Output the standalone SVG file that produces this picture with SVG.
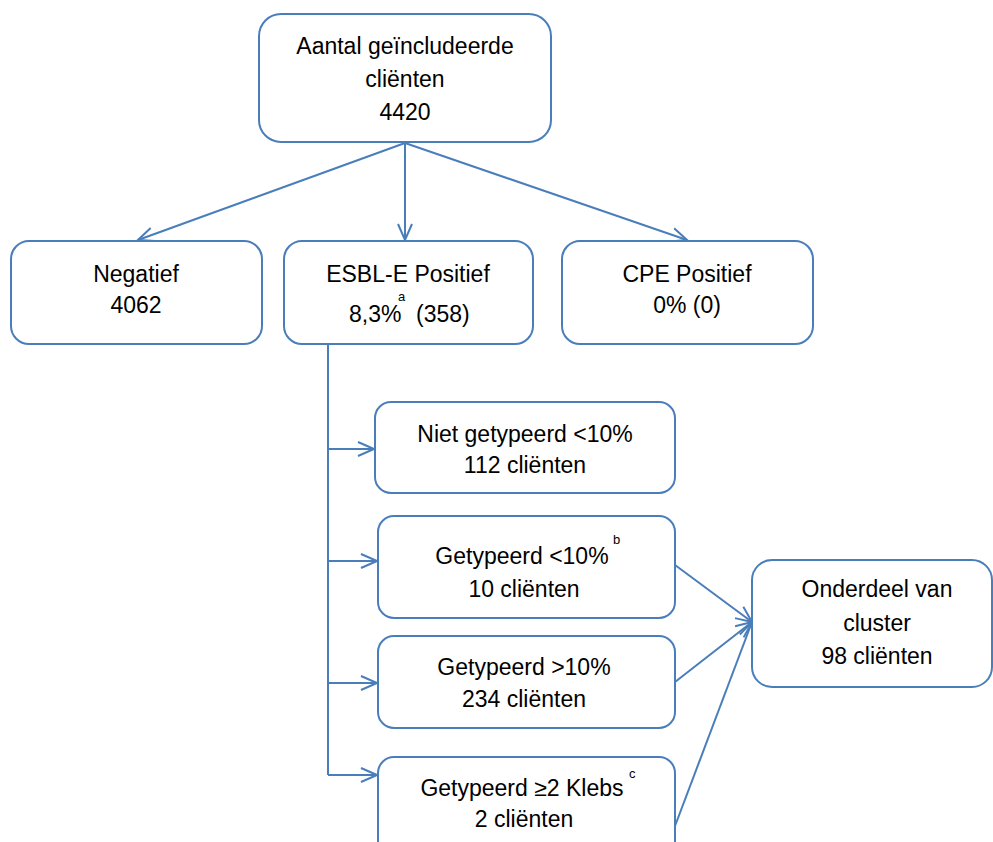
<svg xmlns="http://www.w3.org/2000/svg" width="993" height="842" viewBox="0 0 993 842">
<style>
.box{fill:#fff;stroke:#4a7ebb;stroke-width:2}
.ln{fill:none;stroke:#4a7ebb;stroke-width:2}
text{font-family:"Liberation Sans",Arial,sans-serif;font-size:23px;fill:#000}
.c{text-anchor:middle}
.sup{font-size:13px}
</style>
<defs>
<marker id="ah" viewBox="0 0 20 20" refX="18" refY="10" markerWidth="20" markerHeight="20" markerUnits="userSpaceOnUse" orient="auto">
<path d="M2,3 L18,10 L2,17" fill="none" stroke="#4a7ebb" stroke-width="2"/>
</marker>
</defs>
<g id="connectors">
<line class="ln" x1="405" y1="143" x2="138" y2="240" marker-end="url(#ah)"/>
<line class="ln" x1="405" y1="143" x2="405" y2="240" marker-end="url(#ah)"/>
<line class="ln" x1="405" y1="143" x2="687" y2="240" marker-end="url(#ah)"/>
<line class="ln" x1="328" y1="345" x2="328" y2="775"/>
<line class="ln" x1="328" y1="449" x2="374" y2="449" marker-end="url(#ah)"/>
<line class="ln" x1="328" y1="561" x2="377" y2="561" marker-end="url(#ah)"/>
<line class="ln" x1="328" y1="683" x2="377" y2="683" marker-end="url(#ah)"/>
<line class="ln" x1="328" y1="775" x2="377" y2="775" marker-end="url(#ah)"/>
<line class="ln" x1="675" y1="565" x2="752" y2="622" marker-end="url(#ah)"/>
<line class="ln" x1="675" y1="682" x2="752" y2="622" marker-end="url(#ah)"/>
<line class="ln" x1="675" y1="826" x2="752" y2="622" marker-end="url(#ah)"/>
</g>
<g id="top">
<rect class="box" x="259" y="14" width="292" height="128" rx="22"/>
<text class="c" x="405" y="54">Aantal geïncludeerde</text>
<text class="c" x="405" y="87">cliënten</text>
<text class="c" x="405" y="120">4420</text>
</g>
<g id="negatief">
<rect class="box" x="11" y="241" width="251" height="103" rx="18"/>
<text class="c" x="136" y="282">Negatief</text>
<text class="c" x="136" y="313">4062</text>
</g>
<g id="esbl">
<rect class="box" x="284" y="241" width="249" height="103" rx="18"/>
<text class="c" x="408" y="282">ESBL-E Positief</text>
<text x="349" y="322">8,3%</text>
<text class="sup" x="398" y="301">a</text>
<text x="416" y="322">(358)</text>
</g>
<g id="cpe">
<rect class="box" x="562" y="241" width="251" height="103" rx="18"/>
<text class="c" x="687" y="282">CPE Positief</text>
<text class="c" x="687" y="313">0% (0)</text>
</g>
<g id="niet">
<rect class="box" x="375" y="402" width="300" height="91" rx="16"/>
<text class="c" x="525" y="442">Niet getypeerd &lt;10%</text>
<text class="c" x="525" y="473">112 cliënten</text>
</g>
<g id="get1">
<rect class="box" x="378" y="516" width="297" height="102" rx="16"/>
<text class="c" x="522" y="564">Getypeerd &lt;10%</text>
<text class="sup" x="613" y="544">b</text>
<text class="c" x="524" y="597">10 cliënten</text>
</g>
<g id="get2">
<rect class="box" x="378" y="636" width="297" height="92" rx="16"/>
<text class="c" x="524" y="675">Getypeerd &gt;10%</text>
<text class="c" x="524" y="707">234 cliënten</text>
</g>
<g id="get3">
<rect class="box" x="378" y="757" width="297" height="110" rx="16"/>
<text class="c" x="522" y="796">Getypeerd ≥2 Klebs</text>
<text class="sup" x="629" y="778">c</text>
<text class="c" x="524" y="827">2 cliënten</text>
</g>
<g id="onderdeel">
<rect class="box" x="752" y="560" width="240" height="127" rx="20"/>
<text class="c" x="877" y="597">Onderdeel van</text>
<text class="c" x="877" y="631">cluster</text>
<text class="c" x="877" y="664">98 cliënten</text>
</g>
</svg>
